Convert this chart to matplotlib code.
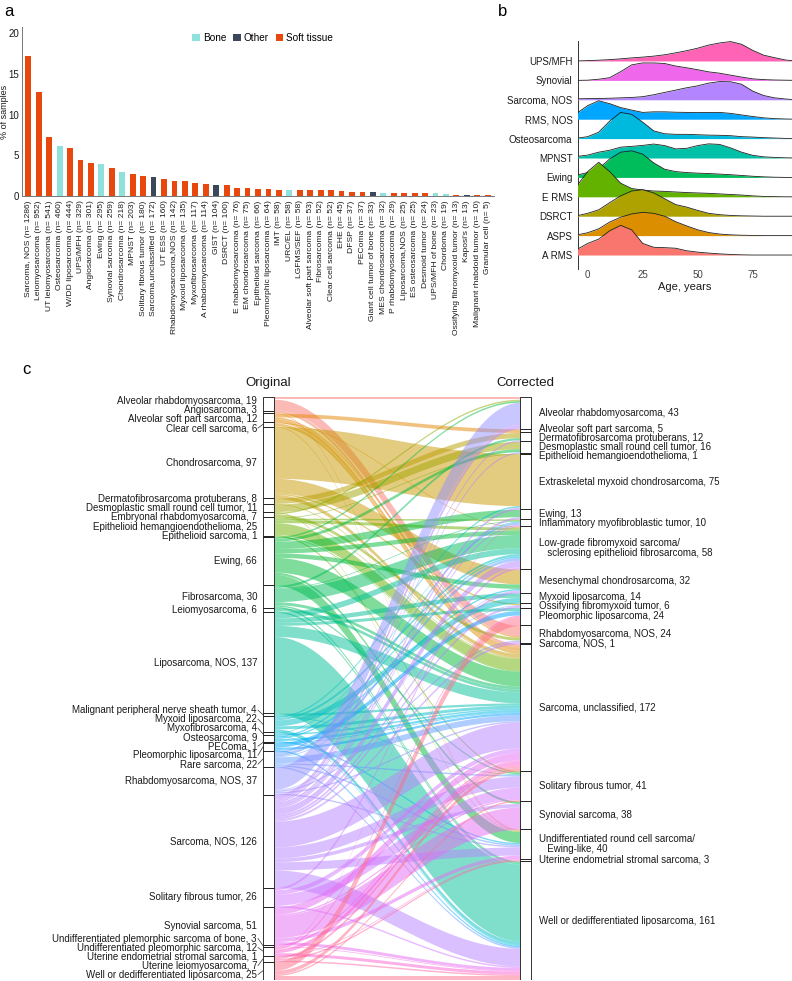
import math
import numpy as np
import matplotlib
matplotlib.use("Agg")
import matplotlib.pyplot as plt
from matplotlib.patches import Patch, Rectangle

plt.rcParams['font.family'] = ['Liberation Sans', 'DejaVu Sans']
TXT = '#1a1a1a'

# ---------------- panel a data ----------------
sample_names = ["Sarcoma, NOS", "Leiomyosarcoma", "UT leiomyosarcoma", "Osteosarcoma",
                "W/DD liposarcoma", "UPS/MFH", "Angiosarcoma", "Ewing", "Synovial sarcoma",
                "Chondrosarcoma", "MPNST", "Solitary fibrous tumor", "Sarcoma,unclassified",
                "UT ESS", "Rhabdomyosarcoma,NOS", "Myxoid liposarcoma", "Myxofibrosarcoma",
                "A rhabdomyosarcoma", "GIST", "DSRCT", "E rhabdomyosarcoma", "EM chondrosarcoma",
                "Epithelioid sarcoma", "Pleomorphic liposarcoma", "IMT", "URC/EL", "LGFMS/SEF",
                "Alveolar soft part sarcoma", "Fibrosarcoma", "Clear cell sarcoma", "EHE", "DFSP",
                "PEComa", "Giant cell tumor of bone", "MES chondrosarcoma", "P rhabdomyosarcoma",
                "Liposarcoma,NOS", "ES osteosarcoma", "Desmoid tumor", "UPS/MFH of bone",
                "Chordoma", "Ossifying fibromyxoid tumor", "Kaposi's", "Malignant rhabdoid tumor",
                "Granular cell"]
sample_n = [1286, 952, 541, 460, 444, 329, 301, 295, 259, 218, 203, 180, 172, 160, 142, 135,
            117, 114, 104, 100, 76, 75, 66, 64, 58, 58, 58, 53, 52, 52, 45, 37, 37, 33, 32, 29,
            25, 25, 24, 23, 19, 13, 13, 10, 5]
sample_type = ["S", "S", "S", "B", "S", "S", "S", "B", "S", "B", "S", "S", "O", "S", "S", "S",
               "S", "S", "O", "S", "S", "S", "S", "S", "S", "B", "S", "S", "S", "S", "S", "S",
               "S", "O", "B", "S", "S", "S", "S", "B", "B", "S", "O", "S", "S"]
type_names = {"B": "Bone", "O": "Other", "S": "Soft tissue"}
type_colors = {"B": "#8fe1db", "O": "#3c475a", "S": "#e8480e"}

# ---------------- panel b data ----------------
ridge_names = ["A RMS", "ASPS", "DSRCT", "E RMS", "Ewing", "MPNST", "Osteosarcoma",
               "RMS, NOS", "Sarcoma, NOS", "Synovial", "UPS/MFH"]
ridge_ages = [-5, 0, 5, 10, 15, 20, 25, 30, 35, 40, 45, 50, 55, 60, 65, 70, 75, 80, 85, 90, 95]
dens_arms = [0.28, 0.6, 0.82, 1.25, 1.53, 1.3, 0.6, 0.4, 0.38, 0.35, 0.22, 0.15, 0.1, 0.06,
             0.03, 0.01, 0, 0, 0, 0, 0]
dens_asps = [0.03, 0.15, 0.35, 0.7, 0.95, 1.12, 1.2, 1.15, 1.0, 0.72, 0.5, 0.3, 0.16, 0.08,
             0.04, 0.02, 0.01, 0, 0, 0, 0]
dens_dsrct = [0.02, 0.15, 0.33, 0.7, 1.05, 1.3, 1.37, 1.2, 0.9, 0.6, 0.47, 0.3, 0.15, 0.08,
              0.04, 0.02, 0.01, 0, 0, 0, 0]
dens_erms = [0.55, 1.3, 1.78, 1.3, 0.7, 0.43, 0.35, 0.3, 0.28, 0.25, 0.22, 0.2, 0.18, 0.15,
             0.12, 0.09, 0.05, 0.02, 0.01, 0, 0]
dens_ewing = [0.12, 0.25, 0.45, 0.95, 1.3, 1.37, 1.2, 0.75, 0.42, 0.3, 0.25, 0.22, 0.2, 0.17,
              0.14, 0.1, 0.06, 0.03, 0.01, 0, 0]
dens_mpnst = [0.08, 0.15, 0.3, 0.4, 0.56, 0.6, 0.65, 0.72, 0.64, 0.47, 0.5, 0.64, 0.73, 0.7,
              0.52, 0.3, 0.14, 0.06, 0.03, 0.01, 0]
dens_osteo = [0.02, 0.1, 0.33, 0.9, 1.35, 1.25, 0.85, 0.4, 0.25, 0.22, 0.22, 0.2, 0.18, 0.17,
              0.15, 0.1, 0.08, 0.05, 0.03, 0.01, 0]
dens_rms = [0.3, 0.7, 0.95, 0.8, 0.6, 0.47, 0.35, 0.38, 0.38, 0.36, 0.35, 0.34, 0.35, 0.35,
            0.3, 0.22, 0.14, 0.07, 0.03, 0.01, 0]
dens_snos = [0.05, 0.06, 0.07, 0.08, 0.1, 0.12, 0.16, 0.26, 0.38, 0.5, 0.62, 0.72, 0.86, 0.94,
             0.93, 0.8, 0.45, 0.22, 0.1, 0.04, 0]
dens_syn = [0, 0.01, 0.06, 0.14, 0.45, 0.8, 0.9, 0.9, 0.87, 0.74, 0.65, 0.55, 0.44, 0.37,
            0.27, 0.17, 0.08, 0.04, 0.02, 0.01, 0]
dens_ups = [0, 0.02, 0.04, 0.07, 0.11, 0.16, 0.2, 0.25, 0.32, 0.42, 0.53, 0.66, 0.82, 0.93,
            1.0, 0.86, 0.55, 0.3, 0.17, 0.05, 0]
ridge_dens = [dens_arms, dens_asps, dens_dsrct, dens_erms, dens_ewing, dens_mpnst, dens_osteo,
              dens_rms, dens_snos, dens_syn, dens_ups]

# ---------------- panel c data ----------------
orig_names = ["Alveolar rhabdomyosarcoma", "Angiosarcoma", "Alveolar soft part sarcoma",
              "Clear cell sarcoma", "Chondrosarcoma", "Dermatofibrosarcoma protuberans",
              "Desmoplastic small round cell tumor", "Embryonal rhabdomyosarcoma",
              "Epithelioid hemangioendothelioma", "Epithelioid sarcoma", "Ewing", "Fibrosarcoma",
              "Leiomyosarcoma", "Liposarcoma, NOS", "Malignant peripheral nerve sheath tumor",
              "Myxoid liposarcoma", "Myxofibrosarcoma", "Osteosarcoma", "PEComa",
              "Pleomorphic liposarcoma", "Rare sarcoma", "Rhabdomyosarcoma, NOS", "Sarcoma, NOS",
              "Solitary fibrous tumor", "Synovial sarcoma",
              "Undifferentiated plemorphic sarcoma of bone", "Undifferentiated pleomorphic sarcoma",
              "Uterine endometrial stromal sarcoma", "Uterine leiomyosarcoma",
              "Well or dedifferentiated liposarcoma"]
orig_n = [19, 3, 12, 6, 97, 8, 11, 7, 25, 1, 66, 30, 6, 137, 4, 22, 4, 9, 1, 11, 22, 37, 126,
          26, 51, 3, 12, 1, 7, 25]
corr_names = ["Alveolar rhabdomyosarcoma", "Alveolar soft part sarcoma",
              "Dermatofibrosarcoma protuberans", "Desmoplastic small round cell tumor",
              "Epithelioid hemangioendothelioma", "Extraskeletal myxoid chondrosarcoma", "Ewing",
              "Inflammatory myofibroblastic tumor",
              "Low-grade fibromyxoid sarcoma/\n   sclerosing epithelioid fibrosarcoma",
              "Mesenchymal chondrosarcoma", "Myxoid liposarcoma", "Ossifying fibromyxoid tumor",
              "Pleomorphic liposarcoma", "Rhabdomyosarcoma, NOS", "Sarcoma, NOS",
              "Sarcoma, unclassified", "Solitary fibrous tumor", "Synovial sarcoma",
              "Undifferentiated round cell sarcoma/\n   Ewing-like",
              "Uterine endometrial stromal sarcoma", "Well or dedifferentiated liposarcoma"]
corr_n = [43, 5, 12, 16, 1, 75, 13, 10, 58, 32, 14, 6, 24, 24, 1, 172, 41, 38, 40, 3, 161]
# (original index, corrected index, samples) - estimated from the ribbons
flow_from = [0, 0, 0, 1, 1, 2, 2, 2, 3, 3, 3, 4, 4, 4, 4, 5, 5, 6, 6, 7, 7, 7,
             8, 8, 8, 8, 8, 9, 10, 10, 10, 10, 10, 10, 10, 10,
             11, 11, 11, 11, 11, 11, 12, 12, 13, 13, 13, 13, 13, 14, 14,
             15, 15, 15, 15, 15, 16, 16, 16, 17, 17, 17, 17, 18, 19, 19, 19,
             20, 20, 20, 20, 20, 20, 20, 21, 21, 21, 21, 21,
             22, 22, 22, 22, 22, 22, 22, 22, 22, 22, 22, 22, 22, 22, 22, 22,
             23, 23, 23, 23, 24, 24, 24, 24, 24, 25, 25, 26, 26, 26, 26, 27,
             28, 28, 28, 29, 29, 29, 29]
flow_to = [0, 13, 15, 15, 18, 1, 13, 15, 15, 8, 18, 5, 9, 11, 15, 2, 15, 3, 18, 0, 13, 15,
           4, 15, 8, 16, 7, 15, 0, 3, 6, 8, 9, 15, 17, 18,
           2, 7, 8, 15, 16, 20, 15, 20, 8, 10, 12, 15, 20, 15, 16,
           5, 8, 10, 15, 20, 7, 15, 20, 8, 9, 15, 18, 15, 12, 15, 20,
           7, 8, 11, 15, 16, 18, 20, 0, 9, 13, 15, 18,
           0, 2, 3, 5, 6, 7, 8, 9, 11, 13, 14, 15, 16, 17, 18, 20,
           8, 15, 16, 20, 15, 17, 18, 16, 20, 15, 20, 7, 12, 15, 20, 19,
           15, 19, 20, 12, 15, 16, 20]
flow_n = [3, 14, 2, 2, 1, 5, 2, 5, 4, 1, 1, 70, 20, 2, 5, 7, 1, 10, 1, 2, 4, 1,
          1, 16, 4, 2, 2, 1, 2, 4, 10, 6, 6, 20, 3, 15,
          3, 1, 18, 4, 2, 2, 4, 2, 8, 6, 4, 15, 104, 3, 1,
          2, 3, 8, 4, 5, 1, 2, 1, 2, 2, 3, 2, 1, 6, 3, 2,
          3, 4, 1, 8, 2, 2, 2, 30, 1, 2, 2, 2,
          6, 2, 2, 3, 3, 2, 9, 3, 3, 2, 1, 35, 15, 5, 11, 24,
          3, 6, 15, 2, 10, 30, 5, 2, 4, 2, 1, 1, 2, 5, 4, 1,
          3, 2, 2, 12, 5, 2, 6]


def hue_colors(n):
    # ggplot2 default hue palette: hcl(h, c=100, l=65)
    hues = np.linspace(15, 375 - 360.0 / n, n)
    out = []
    L, C = 65.0, 100.0
    xn, yn, zn = 0.95047, 1.0, 1.08883
    un = 4 * xn / (xn + 15 * yn + 3 * zn)
    vn = 9 * yn / (xn + 15 * yn + 3 * zn)
    for h in hues:
        u = C * math.cos(math.radians(h))
        v = C * math.sin(math.radians(h))
        Y = ((L + 16) / 116.0) ** 3
        up = u / (13 * L) + un
        vp = v / (13 * L) + vn
        X = Y * 9 * up / (4 * vp)
        Z = Y * (12 - 3 * up - 20 * vp) / (4 * vp)
        rgb = [3.2404542 * X - 1.5371385 * Y - 0.4985314 * Z,
               -0.9692660 * X + 1.8760108 * Y + 0.0415560 * Z,
               0.0556434 * X - 0.2040259 * Y + 1.0572252 * Z]
        res = []
        for c in rgb:
            c = 12.92 * c if c <= 0.0031308 else 1.055 * c ** (1 / 2.4) - 0.055
            res.append(min(max(c, 0), 1))
        out.append(tuple(res))
    return out


def repel(targets, halfh, iters=400):
    pos = list(targets)
    order = sorted(range(len(targets)), key=lambda i: targets[i])
    for _ in range(iters):
        moved = False
        for a, b in zip(order[:-1], order[1:]):
            need = halfh[a] + halfh[b]
            d = pos[b] - pos[a]
            if d < need - 1e-6:
                push = (need - d) / 2
                pos[a] -= push
                pos[b] += push
                moved = True
        if not moved:
            break
    return pos


fig = plt.figure(figsize=(7.92, 9.81), dpi=100)
W, H = 792.0, 981.0

# ================= panel a =================
axa = fig.add_axes([22 / W, 1 - 196 / H, 472 / W, 169 / H])
pct = [100.0 * v / sum(sample_n) for v in sample_n]
xs = np.arange(len(sample_names))
axa.bar(xs, pct, width=0.56, color=[type_colors[t] for t in sample_type])
axa.set_xlim(-0.6, len(sample_names) - 0.4)
axa.set_ylim(0, 20.74)
axa.set_yticks([0, 5, 10, 15, 20])
axa.set_xticks(xs)
axa.set_xticklabels(["%s (n= %d)" % (nm, n) for nm, n in zip(sample_names, sample_n)],
                    rotation=90, fontsize=6.1, color=TXT)
axa.tick_params(axis='x', length=0, pad=3)
axa.tick_params(axis='y', length=0, pad=2, labelsize=7, labelcolor=TXT)
for s in ['top', 'right']:
    axa.spines[s].set_visible(False)
axa.spines['left'].set_color('#777777')
axa.spines['bottom'].set_color('#777777')
axa.spines['left'].set_linewidth(0.7)
axa.spines['bottom'].set_linewidth(0.7)
axa.set_ylabel("% of samples", fontsize=6.5, color=TXT)
axa.yaxis.set_label_coords(-12.5 / 472, 0.5)
handles = [Patch(facecolor=type_colors[k], label=type_names[k]) for k in ["B", "O", "S"]]
axa.legend(handles=handles, loc='upper center', bbox_to_anchor=(0.51, 0.99), ncol=3,
           frameon=False, fontsize=7.2, handlelength=0.75, handleheight=0.75,
           handletextpad=0.3, columnspacing=0.7, borderaxespad=0)
fig.text(4 / W, 1 - 11 / H, "a", fontsize=12, va='center', ha='left')

# ================= panel b =================
axb = fig.add_axes([578 / W, 1 - 269 / H, 214 / W, 228 / H])
rcol = hue_colors(len(ridge_names))
for k in range(len(ridge_names) - 1, -1, -1):
    top = [k + d for d in ridge_dens[k]]
    z = 10 + (len(ridge_names) - k) * 2
    axb.fill_between(ridge_ages, k, top, color=rcol[k], lw=0, zorder=z)
    axb.plot(ridge_ages, top, color='#222222', lw=0.6, zorder=z + 1)
axb.set_xlim(-4.4, 92.9)
axb.set_ylim(-0.72, 11.03)
axb.set_yticks(range(len(ridge_names)))
axb.set_yticklabels(ridge_names, fontsize=7, color=TXT)
axb.set_xticks([0, 25, 50, 75])
axb.tick_params(axis='x', length=0, pad=1, labelsize=7, labelcolor='#444444')
axb.tick_params(axis='y', length=0, pad=4)
for s in ['top', 'right', 'bottom']:
    axb.spines[s].set_visible(False)
axb.spines['left'].set_linewidth(0.7)
axb.spines['left'].set_color('#333333')
axb.set_xlabel("Age, years", fontsize=8, color=TXT, labelpad=1)
fig.text(498 / W, 1 - 11 / H, "b", fontsize=12, va='center', ha='left')

# ================= panel c =================
axc = fig.add_axes([0, 1 - 980 / H, 1, 583 / H])
total = sum(orig_n)
x_l, x_r = 1.0, 2.0
px = 257.0
axc.set_xlim(1 - 268.5 / px, 1 + (W - 268.5) / px)
axc.set_ylim(total, 0)
axc.axis('off')
sw = 11.0 / px
pcol = hue_colors(len(orig_names))
upx = 583.0 / total  # pixels per sample

orig_top = np.concatenate([[0], np.cumsum(orig_n)[:-1]])
corr_top = np.concatenate([[0], np.cumsum(corr_n)[:-1]])

flows = list(zip(flow_from, flow_to, flow_n))
left_pos = {}
for i in range(len(orig_names)):
    y = orig_top[i]
    for f in sorted([f for f in flows if f[0] == i], key=lambda f: f[1]):
        left_pos[f] = y
        y += f[2]
right_pos = {}
for j in range(len(corr_names)):
    y = corr_top[j]
    for f in sorted([f for f in flows if f[1] == j], key=lambda f: f[0]):
        right_pos[f] = y
        y += f[2]

x0, x1 = x_l + sw / 2, x_r - sw / 2
t = np.linspace(0, 1, 60)
ease = 0.5 - 0.5 * np.cos(np.pi * t)
xx = x0 + (x1 - x0) * t
for f in flows:
    a, b = left_pos[f], right_pos[f]
    ytop = a + (b - a) * ease
    ybot = ytop + f[2]
    axc.fill_between(xx, ytop, ybot, color=pcol[f[0]], alpha=0.5, lw=0, zorder=2)

for i, n in enumerate(orig_n):
    axc.add_patch(Rectangle((x_l - sw / 2, orig_top[i]), sw, n, facecolor='white',
                            edgecolor='#111111', lw=0.6, zorder=5))
for j, n in enumerate(corr_n):
    axc.add_patch(Rectangle((x_r - sw / 2, corr_top[j]), sw, n, facecolor='white',
                            edgecolor='#111111', lw=0.6, zorder=5))

fs_c = 7
line_u = 9.0 / upx
# left labels
tg = [orig_top[i] + orig_n[i] / 2 for i in range(len(orig_n))]
lab_y = repel(tg, [line_u / 2] * len(tg))
lx = x_l - sw / 2 - 6 / px
for i in range(len(orig_names)):
    axc.text(lx, lab_y[i], "%s, %d" % (orig_names[i], orig_n[i]), ha='right', va='center',
             fontsize=fs_c, color=TXT, zorder=6)
    if abs(lab_y[i] - tg[i]) * upx > 3:
        axc.plot([lx + 1 / px, x_l - sw / 2], [lab_y[i], tg[i]], color='#333333', lw=0.5,
                 zorder=6)
# right labels
tg = [corr_top[j] + corr_n[j] / 2 for j in range(len(corr_n))]
hh = [line_u / 2 * (1 + corr_names[j].count('\n')) for j in range(len(corr_n))]
lab_y = repel(tg, hh)
rx = x_r + sw / 2 + 8 / px
for j in range(len(corr_names)):
    axc.text(rx, lab_y[j], "%s, %d" % (corr_names[j], corr_n[j]), ha='left', va='center',
             fontsize=fs_c, color=TXT, zorder=6, linespacing=1.05)
    if abs(lab_y[j] - tg[j]) * upx > 3:
        axc.plot([x_r + sw / 2, rx - 1 / px], [tg[j], lab_y[j]], color='#333333', lw=0.5,
                 zorder=6)

axc.text(x_l, -14 / upx, "Original", ha='center', va='center', fontsize=9.5, color=TXT)
axc.text(x_r, -14 / upx, "Corrected", ha='center', va='center', fontsize=9.5, color=TXT)
fig.text(22 / W, 1 - 370 / H, "c", fontsize=12, va='center', ha='left')

fig.savefig("out.png", dpi=100)
